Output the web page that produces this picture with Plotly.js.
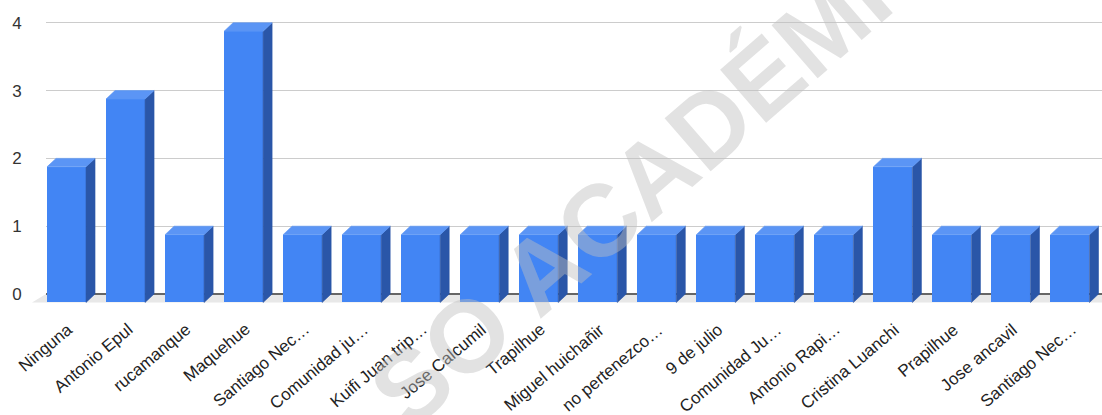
<!DOCTYPE html>
<html>
<head>
<meta charset="utf-8">
<script src="https://cdn.plot.ly/plotly-3.0.1.min.js"></script>
<style>
html,body{margin:0;padding:0;background:#fff;overflow:hidden;}
#chart{width:1102px;height:415px;}
</style>
</head>
<body>
<div id="chart"></div>
<script>
// ---- data ----
const categories = ["Ninguna","Antonio Epul","rucamanque","Maquehue","Santiago Nec…","Comunidad ju…","Kuifi Juan trip…","Jose Calcumil","Trapilhue","Miguel huichañir","no pertenezco…","9 de julio","Comunidad Ju…","Antonio Rapi…","Cristina Luanchi","Prapilhue","Jose ancavil","Santiago Nec…"];
const values = [2,3,1,4,1,1,1,1,1,1,1,1,1,1,2,1,1,1];
const yTicks = [0,1,2,3,4];
const watermark = "SO ACADÉMICO";

// ---- geometry (3D look) ----
const xRange = [-0.5, 17.39];
const yRange = [-0.177, 4.336];
const W = 0.661;   // front face width (category units)
const DX = 0.1525; // depth along x
const DY = 0.125;  // depth along y

const idx = categories.map((_, i) => i);

const frontTrace = {
  type: 'bar',
  x: idx.map(i => i - DX),
  y: values,
  base: values.map(() => -DY),
  width: W,
  marker: {color: '#4285F4', line: {width: 0}},
  hoverinfo: 'skip',
  showlegend: false
};

const sideX = [], sideY = [], topX = [], topY = [];
idx.forEach((i) => {
  const v = values[i];
  const xl = i - DX - W / 2, xr = i - DX + W / 2;
  sideX.push(xr, xr + DX, xr + DX, xr, xr, null);
  sideY.push(-DY, 0, v, v - DY, -DY, null);
  topX.push(xl, xl + DX, xr + DX, xr, xl, null);
  topY.push(v - DY, v, v, v - DY, v - DY, null);
});

const sideTrace = {
  type: 'scatter', mode: 'lines', x: sideX, y: sideY,
  fill: 'toself', fillcolor: '#2A56A8',
  line: {width: 0.6, color: '#2A56A8'},
  hoverinfo: 'skip', showlegend: false
};
const topTrace = {
  type: 'scatter', mode: 'lines', x: topX, y: topY,
  fill: 'toself', fillcolor: '#5B95F5',
  line: {width: 0.6, color: '#5B95F5'},
  hoverinfo: 'skip', showlegend: false
};

const ml = 46, plotW = 1056, plotH = 306;
const py = v => (v - yRange[0]) / (yRange[1] - yRange[0]);
const floorLeft = -14 / plotW;

// rotated category labels
const labelAnnotations = categories.map((c, i) => ({
  xref: 'x', yref: 'paper', x: i + 0.02, y: -14 / plotH,
  xanchor: 'right', yanchor: 'top', showarrow: false,
  text: c, textangle: -40, borderpad: 0, borderwidth: 0,
  font: {size: 17, color: '#222', family: 'Liberation Sans, Arial, sans-serif'}
}));

const layout = {
  width: 1102, height: 415,
  margin: {l: ml, r: 0, t: 0, b: 415 - plotH},
  paper_bgcolor: '#ffffff', plot_bgcolor: '#ffffff',
  font: {family: 'Liberation Sans, Arial, sans-serif', color: '#222'},
  bargap: 0,
  xaxis: {
    range: xRange, tickvals: idx, ticktext: categories, showticklabels: false,
    showgrid: false, zeroline: false, showline: false, fixedrange: true
  },
  yaxis: {
    range: yRange, tickvals: yTicks, ticktext: yTicks.map(String),
    ticks: 'outside', ticklen: 20, tickcolor: 'rgba(0,0,0,0)',
    tickfont: {size: 17, color: '#333'},
    showgrid: true, gridcolor: '#cccccc', gridwidth: 1,
    zeroline: true, zerolinecolor: '#666666', zerolinewidth: 1.5,
    showline: false, fixedrange: true
  },
  shapes: [{
    type: 'path', xref: 'paper', yref: 'paper', layer: 'below',
    path: `M ${floorLeft} ${py(-DY)} L 0 ${py(0)} L 1 ${py(0)} L 1 ${py(-DY)} Z`,
    fillcolor: '#e8e8e8', line: {width: 0}
  }],
  annotations: labelAnnotations.concat([{
    xref: 'paper', yref: 'paper', x: 0.6086, y: 0.5278,
    xanchor: 'center', yanchor: 'middle', showarrow: false,
    text: '<b>' + watermark + '</b>', textangle: -41,
    font: {size: 102, color: 'rgba(190,190,190,0.45)', family: 'Liberation Sans, Arial, sans-serif'}
  }])
};

Plotly.newPlot('chart', [frontTrace, sideTrace, topTrace], layout, {displayModeBar: false, staticPlot: true});
</script>
</body>
</html>
